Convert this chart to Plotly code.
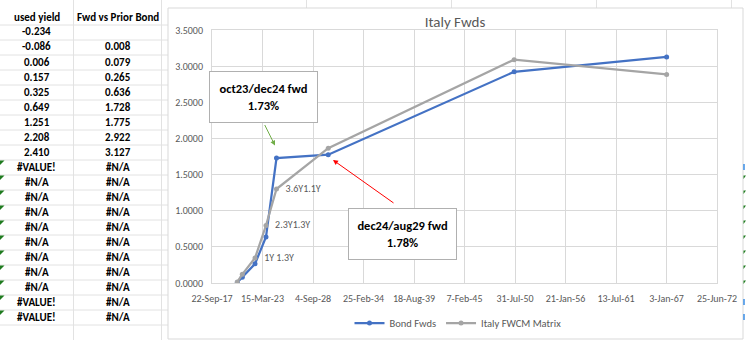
from decimal import Decimal, ROUND_HALF_UP

import plotly.graph_objects as go

# ---- page / plot-area geometry (pixels) ----
W, H = 746, 340
PL, PR, PT, PB = 212, 717, 30, 283


def px(x):
    """pixel x -> paper x"""
    return (x - PL) / (PR - PL)


def py(y):
    """pixel y -> paper y"""
    return (PB - y) / (PB - PT)


def fmt(v, places):
    """spreadsheet-style half-up rounding"""
    q = Decimal(1).scaleb(-places)
    return str(Decimal(str(v)).quantize(q, rounding=ROUND_HALF_UP))


# ---- data ----
FWD_DATES = ["2020-06-20", "2021-01-04", "2022-05-22", "2023-07-31",
             "2024-09-19", "2030-04-30", "2050-06-27", "2067-01-08"]
BOND_FWDS = [0.008, 0.079, 0.265, 0.636, 1.728, 1.775, 2.922, 3.127]
ITALY_FWCM = [0.015, 0.120, 0.345, 0.795, 1.300, 1.865, 3.090, 2.885]
FWCM_LABELS = ["", "", "1Y 1.3Y", "2.3Y1.3Y", "3.6Y1.1Y", "", "", ""]

USED_YIELD = [-0.234, -0.086, 0.006, 0.157, 0.325, 0.649, 1.251, 2.208, 2.410]
USED_YIELD_ERRORS = ["#VALUE!"] + ["#N/A"] * 8 + ["#VALUE!"] * 2
FWD_ERRORS = ["#N/A"] * 11

X_TICK_DATES = ["2017-09-22", "2023-03-15", "2028-09-04", "2034-02-25",
                "2039-08-18", "2045-02-07", "2050-07-31", "2056-01-21",
                "2061-07-13", "2067-01-03", "2072-06-25"]
X_TICK_LABELS = ["22-Sep-17", "15-Mar-23", "4-Sep-28", "25-Feb-34",
                 "18-Aug-39", "7-Feb-45", "31-Jul-50", "21-Jan-56",
                 "13-Jul-61", "3-Jan-67", "25-Jun-72"]

FONT = "Carlito, 'Liberation Sans', Arial, sans-serif"
BLUE = "#4472c4"
GREY = "#a5a5a5"
TXT = "#595959"
GRID = "#d9d9d9"
SHEET = "#e2e2e2"

fig = go.Figure()

fig.add_trace(go.Scatter(
    x=FWD_DATES, y=BOND_FWDS, name="Bond Fwds", mode="lines+markers",
    line=dict(color=BLUE, width=2.25), marker=dict(color=BLUE, size=5),
))
fig.add_trace(go.Scatter(
    x=FWD_DATES, y=ITALY_FWCM, name="Italy FWCM Matrix", mode="lines+markers",
    line=dict(color=GREY, width=2.25), marker=dict(color=GREY, size=5),
))
# point labels on the FWCM series
fig.add_trace(go.Scatter(
    x=FWD_DATES, y=ITALY_FWCM, mode="markers+text", text=FWCM_LABELS,
    textposition="middle right", showlegend=False, hoverinfo="skip",
    marker=dict(size=13, opacity=0), cliponaxis=False,
    textfont=dict(family=FONT, size=10, color=TXT),
))

shapes = []
annotations = []

# ---- spreadsheet cells beside the chart ----
for y in [25 + 15 * k for k in range(21)]:
    shapes.append(dict(type="line", xref="paper", yref="paper",
                       x0=px(0), x1=px(168), y0=py(y), y1=py(y),
                       line=dict(color=SHEET, width=1), layer="below"))
for x in (73.5, 161.5):
    shapes.append(dict(type="line", xref="paper", yref="paper",
                       x0=px(x), x1=px(x), y0=py(0), y1=py(340),
                       line=dict(color=SHEET, width=1), layer="below"))
for x in (306.5, 451.5, 596.5, 731.5):
    shapes.append(dict(type="line", xref="paper", yref="paper",
                       x0=px(x), x1=px(x), y0=py(0), y1=py(8),
                       line=dict(color=SHEET, width=1), layer="below"))

# error-indicator triangles in the cell corners
for k in range(11):
    top = 160 + 15 * k
    shapes.append(dict(type="path", xref="paper", yref="paper",
                       path=f"M{px(0)},{py(top + 0.5)} L{px(4.5)},{py(top + 0.5)} "
                            f"L{px(0)},{py(top + 5)} Z",
                       fillcolor="#1e7b1e", line=dict(width=0)))
for k in range(1, 9):
    top = 160 + 15 * k
    shapes.append(dict(type="path", xref="paper", yref="paper",
                       path=f"M{px(743.5)},{py(top + 0.5)} L{px(746)},{py(top + 0.5)} "
                            f"L{px(743.5)},{py(top + 4)} Z",
                       fillcolor="#1e7b1e", line=dict(width=0)))
for top in (160, 295, 310):
    shapes.append(dict(type="line", xref="paper", yref="paper",
                       x0=px(744), x1=px(744), y0=py(top + 4), y1=py(top + 10),
                       line=dict(color="#3a8ee6", width=1.5)))

# chart-area frame
shapes.append(dict(type="rect", xref="paper", yref="paper",
                   x0=px(168), x1=px(743), y0=py(8), y1=py(339),
                   line=dict(color=GRID, width=1), fillcolor="white", layer="below"))


# table text
def cell(text, xc, row):
    annotations.append(dict(
        xref="paper", yref="paper", x=px(xc), y=py(17 + 15 * row),
        text=f"<b>{text}</b>", showarrow=False, xanchor="center", yanchor="middle",
        font=dict(family=FONT, size=11, color="black"),
    ))


cell("used yield", 36.7, 0)
cell("Fwd vs Prior Bond", 117.5, 0)
col1 = [fmt(v, 3) for v in USED_YIELD] + USED_YIELD_ERRORS
col2 = [""] + [fmt(v, 3) for v in BOND_FWDS] + FWD_ERRORS
for i, t in enumerate(col1):
    cell(t, 36.7, i + 1)
for i, t in enumerate(col2):
    if t:
        cell(t, 117.5, i + 1)

# callout boxes
annotations.append(dict(
    xref="paper", yref="paper", x=px(263.8), y=py(97), xanchor="center", yanchor="middle",
    text=f"<b>oct23/dec24 fwd<br>{fmt(BOND_FWDS[4], 2)}%</b>", showarrow=False,
    width=107, height=50, borderpad=0, borderwidth=1, bordercolor="#b0b0b0",
    bgcolor="white", font=dict(family=FONT, size=12.5, color="black"),
))
annotations.append(dict(
    xref="paper", yref="paper", x=px(402), y=py(233.8), xanchor="center", yanchor="middle",
    text=f"<b>dec24/aug29 fwd<br>{fmt(BOND_FWDS[5], 2)}%</b>", showarrow=False,
    width=107, height=50, borderpad=0, borderwidth=1, bordercolor="#b0b0b0",
    bgcolor="white", font=dict(family=FONT, size=12.5, color="black"),
))
# arrows
annotations.append(dict(
    xref="paper", yref="paper", x=px(275), y=py(145.5), ax=-11, ay=-22,
    text="", showarrow=True, arrowhead=2, arrowsize=1, arrowwidth=1,
    arrowcolor="#70ad47", standoff=0,
))
annotations.append(dict(
    xref="paper", yref="paper", x=px(333), y=py(160), ax=62, ay=44,
    text="", showarrow=True, arrowhead=2, arrowsize=1, arrowwidth=1,
    arrowcolor="#ff0000", standoff=0,
))

fig.update_layout(
    width=W, height=H, autosize=False,
    margin=dict(l=PL, r=W - PR, t=PT, b=H - PB, pad=0, autoexpand=False),
    paper_bgcolor="white", plot_bgcolor="white",
    font=dict(family=FONT, size=10, color=TXT),
    title=dict(text="Italy Fwds", x=455 / W, y=1 - 22 / H, xref="container", yref="container",
               xanchor="center", yanchor="middle",
               font=dict(family=FONT, size=15, color=TXT)),
    showlegend=True,
    legend=dict(orientation="h", x=px(458), y=py(323), xanchor="center", yanchor="middle",
                font=dict(family=FONT, size=10.5, color=TXT), bgcolor="rgba(0,0,0,0)",
                itemwidth=30),
    shapes=shapes,
    annotations=annotations,
)

fig.update_xaxes(
    type="date", range=[X_TICK_DATES[0], X_TICK_DATES[-1]],
    tickmode="array", tickvals=X_TICK_DATES, ticktext=X_TICK_LABELS,
    showgrid=True, gridcolor=GRID, gridwidth=1, zeroline=False,
    showline=True, linecolor=GRID, linewidth=1, mirror=True,
    ticks="outside", ticklen=6, tickcolor="rgba(0,0,0,0)",
    tickfont=dict(family=FONT, size=10, color=TXT),
)
fig.update_yaxes(
    range=[0, 3.5], dtick=0.5, tick0=0, tickformat=".4f",
    showgrid=True, gridcolor=GRID, gridwidth=1, zeroline=False,
    showline=True, linecolor=GRID, linewidth=1, mirror=True,
    ticks="outside", ticklen=6, tickcolor="rgba(0,0,0,0)",
    tickfont=dict(family=FONT, size=10, color=TXT),
)

fig.write_html("out.html")
